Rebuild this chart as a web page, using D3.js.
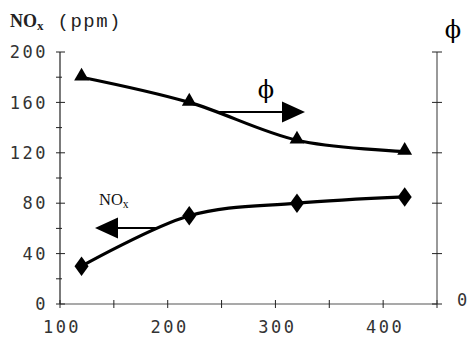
<!DOCTYPE html>
<html>
<head>
<meta charset="utf-8">
<script src="https://cdn.jsdelivr.net/npm/d3@7"></script>
<style>
  body { margin: 0; background: #fff; }
  .tick-label { font-family: "DejaVu Sans Mono", monospace; font-size: 17px; fill: #333; letter-spacing: 2.5px; }
</style>
</head>
<body>
<svg id="chart"></svg>
<script>
// data
const loads = [120, 220, 320, 420];
const noxValues = [30, 70, 80, 85];
const phiValues = [0.9, 0.8, 0.65, 0.605];
const xTicks = [100, 200, 300, 400];
const xMinorTicks = [150, 250, 350, 450];
const yTicks = [0, 40, 80, 120, 160, 200];
const yMinorTicks = [20, 60, 100, 140, 180];
const phiTicks = [0, 0.2, 0.4, 0.6, 0.8, 1.0];

const width = 471, height = 338;
const margin = {top: 52, right: 34, bottom: 34, left: 60};

const svg = d3.select('#chart')
    .attr('width', width)
    .attr('height', height);

const xScale = d3.scaleLinear().domain([100, 450]).range([margin.left, width - margin.right]);
const yScale = d3.scaleLinear().domain([0, 200]).range([height - margin.bottom, margin.top]);
const phiScale = d3.scaleLinear().domain([0, 1]).range([height - margin.bottom, margin.top]);

// axes
const axisColor = '#222';
const xAxisG = svg.append('g').attr('transform', `translate(0,${yScale(0)})`);
xAxisG.append('line')
    .attr('x1', xScale(100)).attr('x2', xScale(450))
    .attr('stroke', '#555').attr('stroke-width', 1.2);
xAxisG.selectAll('.xmaj').data(xTicks.concat(xMinorTicks)).join('line')
    .attr('x1', d => xScale(d)).attr('x2', d => xScale(d))
    .attr('y1', -4).attr('y2', 4)
    .attr('stroke', axisColor);
xAxisG.selectAll('.xlab').data(xTicks).join('text')
    .attr('class', 'tick-label')
    .attr('x', d => xScale(d) + 2)
    .attr('y', 29)
    .attr('text-anchor', 'middle')
    .text(d => d);

const yAxisG = svg.append('g').attr('transform', `translate(${xScale(100)},0)`);
yAxisG.append('line')
    .attr('y1', yScale(0)).attr('y2', yScale(200))
    .attr('stroke', axisColor).attr('stroke-width', 1.2);
yAxisG.selectAll('.ymaj').data(yTicks).join('line')
    .attr('y1', d => yScale(d)).attr('y2', d => yScale(d))
    .attr('x1', -4).attr('x2', 5)
    .attr('stroke', axisColor);
yAxisG.selectAll('.ymin').data(yMinorTicks).join('line')
    .attr('y1', d => yScale(d)).attr('y2', d => yScale(d))
    .attr('x1', -4).attr('x2', 2)
    .attr('stroke', axisColor);
yAxisG.selectAll('.ylab').data(yTicks).join('text')
    .attr('class', 'tick-label')
    .attr('x', -12)
    .attr('y', d => yScale(d))
    .attr('dy', '0.36em')
    .attr('text-anchor', 'end')
    .text(d => d);

const rAxisG = svg.append('g').attr('transform', `translate(${xScale(450)},0)`);
rAxisG.append('line')
    .attr('y1', phiScale(0)).attr('y2', phiScale(1))
    .attr('stroke', '#555').attr('stroke-width', 1.2);
rAxisG.selectAll('.rtick').data(phiTicks).join('line')
    .attr('y1', d => phiScale(d)).attr('y2', d => phiScale(d))
    .attr('x1', -5).attr('x2', 5)
    .attr('stroke', axisColor);
rAxisG.append('text')
    .attr('class', 'tick-label')
    .attr('x', 20)
    .attr('y', phiScale(0))
    .attr('dy', '0.1em')
    .text('0');

// axis titles
const title = svg.append('text')
    .attr('x', 10).attr('y', 27)
    .attr('font-family', '"Liberation Mono", monospace')
    .attr('font-size', 19)
    .attr('letter-spacing', 1.5)
    .attr('fill', '#222');
title.append('tspan').attr('font-weight', 'bold').attr('font-family', '"Liberation Serif", serif').attr('letter-spacing', 0).attr('font-size', 18).text('NO');
title.append('tspan').attr('font-weight', 'bold').attr('font-family', '"Liberation Serif", serif').attr('letter-spacing', 0).attr('font-size', 13).attr('dy', 3).text('x');
title.append('tspan').attr('dy', -3).attr('dx', 14).text('(ppm)');

svg.append('text')
    .attr('x', 453).attr('y', 38)
    .attr('text-anchor', 'middle')
    .attr('font-family', '"DejaVu Serif", serif')
    .attr('font-size', 24)
    .attr('fill', '#000')
    .text('\u03D5');

// lines
const noxData = loads.map((d, i) => ({x: d, y: noxValues[i]}));
const phiData = loads.map((d, i) => ({x: d, y: phiValues[i]}));

const noxLine = d3.line()
    .x(d => xScale(d.x))
    .y(d => yScale(d.y))
    .curve(d3.curveCardinal.tension(0));
const phiLine = d3.line()
    .x(d => xScale(d.x))
    .y(d => phiScale(d.y))
    .curve(d3.curveCardinal.tension(0));

svg.append('path').datum(noxData)
    .attr('d', noxLine)
    .attr('fill', 'none').attr('stroke', '#000').attr('stroke-width', 3.2);
svg.append('path').datum(phiData)
    .attr('d', phiLine)
    .attr('fill', 'none').attr('stroke', '#000').attr('stroke-width', 3.2);

// markers
const diamond = d3.symbol().type(d3.symbolDiamond).size(110);
const triangle = d3.symbol().type(d3.symbolTriangle).size(95);
svg.selectAll('.nox-pt').data(noxData).join('path')
    .attr('transform', d => `translate(${xScale(d.x)},${yScale(d.y)}) scale(1.25,1)`)
    .attr('d', diamond)
    .attr('fill', '#000');
svg.selectAll('.phi-pt').data(phiData).join('path')
    .attr('transform', d => `translate(${xScale(d.x)},${phiScale(d.y) - 1})`)
    .attr('d', triangle)
    .attr('fill', '#000');

// annotation arrows
function arrow(x1, x2, y, dir) {
  const g = svg.append('g');
  const headLen = 23, headHalf = 10.5;
  const base = dir > 0 ? x2 - headLen : x2 + headLen;
  g.append('line')
      .attr('x1', x1).attr('x2', base).attr('y1', y).attr('y2', y)
      .attr('stroke', '#000').attr('stroke-width', 2.2);
  g.append('path')
      .attr('d', `M${x2},${y}L${base},${y - headHalf}L${base},${y + headHalf}Z`)
      .attr('fill', '#000');
}
arrow(219, 305, 112, 1);
arrow(157, 95, 228, -1);

svg.append('text')
    .attr('x', 266).attr('y', 98)
    .attr('text-anchor', 'middle')
    .attr('font-family', '"DejaVu Serif", serif')
    .attr('font-size', 24)
    .attr('fill', '#000')
    .text('\u03D5');

const noxLabel = svg.append('text')
    .attr('x', 99).attr('y', 205)
    .attr('font-family', '"Liberation Serif", serif')
    .attr('font-size', 16.5)
    .attr('fill', '#111');
noxLabel.append('tspan').text('NO');
noxLabel.append('tspan').attr('font-size', 11.5).attr('dy', 3).text('x');
</script>
</body>
</html>
